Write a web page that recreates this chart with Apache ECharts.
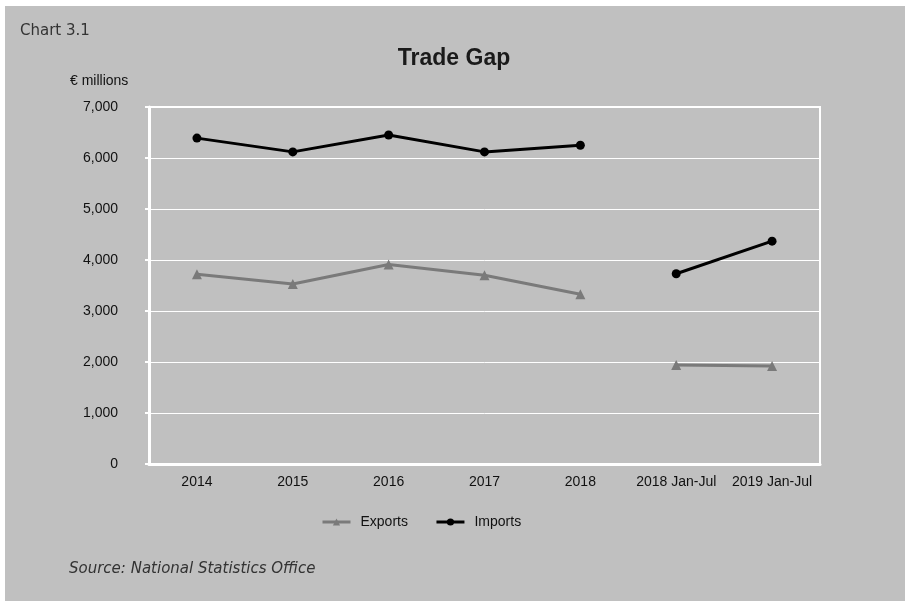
<!DOCTYPE html>
<html>
<head>
<meta charset="utf-8">
<script src="https://cdn.jsdelivr.net/npm/echarts@6/dist/echarts.min.js"></script>
<style>
html,body{margin:0;padding:0;background:#ffffff;}
#chart{width:908px;height:601px;}
</style>
</head>
<body>
<div id="chart"></div>
<script>
var categories = ['2014','2015','2016','2017','2018','2018 Jan-Jul','2019 Jan-Jul'];
var exportsAnnual = [3720, 3530, 3910, 3700, 3330, '-', '-'];
var exportsPartial = ['-', '-', '-', '-', '-', 1940, 1920];
var importsAnnual = [6390, 6120, 6450, 6120, 6250, '-', '-'];
var importsPartial = ['-', '-', '-', '-', '-', 3730, 4370];
var yTicks = [0, 1000, 2000, 3000, 4000, 5000, 6000, 7000];

var chart = echarts.init(document.getElementById('chart'), null, {renderer:'canvas'});
var AF = '"Liberation Sans", Arial, sans-serif';
function mk(name, data, sym, size, color){
  return {
    name: name, type:'line', data: data, symbol: sym, symbolSize: size,
    connectNulls:false, animation:false,
    lineStyle:{width:3, color:color}, itemStyle:{color:color},
    emphasis:{disabled:true}
  };
}
chart.setOption({
  backgroundColor:'#ffffff',
  animation:false,
  graphic:[
    {type:'rect', left:5, top:6, shape:{width:900, height:595}, style:{fill:'#c0c0c0'}, z:-10},
    {type:'text', left:20, top:24, style:{text:'Chart 3.1', font:'15px "DejaVu Sans", sans-serif', fill:'#333333'}},
    {type:'text', left:69, top:562, style:{text:'Source: National Statistics Office', font:'italic 15px "DejaVu Sans", sans-serif', fill:'#333333'}},
    {type:'text', left:70, top:74, style:{text:'€ millions', font:'14px ' + AF, fill:'#111111'}}
  ],
  title:{
    text:'Trade Gap', left:'center', top:42,
    textStyle:{fontFamily:AF, fontSize:23, fontWeight:'bold', color:'#1a1a1a'}
  },
  legend:{
    left:316, top:510, itemWidth:28, itemHeight:9, itemGap:27,
    lineStyle:{width:3},
    textStyle:{fontFamily:AF, fontSize:14, color:'#111111', padding:[0,0,0,5]},
    data:['Exports','Imports']
  },
  grid:{left:149, top:107, right:88, bottom:137, show:true, borderColor:'#ffffff', borderWidth:2, backgroundColor:'transparent'},
  xAxis:{
    type:'category', data:categories, boundaryGap:true,
    axisLine:{lineStyle:{color:'#ffffff', width:3}},
    axisTick:{show:false},
    axisLabel:{color:'#111111', fontFamily:AF, fontSize:14, margin:11, interval:0}
  },
  yAxis:{
    type:'value', min:0, max:7000, interval:1000,
    axisLine:{show:true, lineStyle:{color:'#ffffff', width:3}},
    axisTick:{show:true, length:4, lineStyle:{color:'#ffffff', width:2}},
    splitLine:{show:true, lineStyle:{color:'#ffffff', width:1}},
    axisLabel:{color:'#111111', fontFamily:AF, fontSize:14, margin:31,
      formatter:function(v){return v.toLocaleString('en-US');}}
  },
  series:[
    mk('Exports', exportsAnnual, 'triangle', 10, '#7a7a7a'),
    mk('Exports', exportsPartial, 'triangle', 10, '#7a7a7a'),
    mk('Imports', importsAnnual, 'circle', 9, '#000000'),
    mk('Imports', importsPartial, 'circle', 9, '#000000')
  ]
});
</script>
</body>
</html>
